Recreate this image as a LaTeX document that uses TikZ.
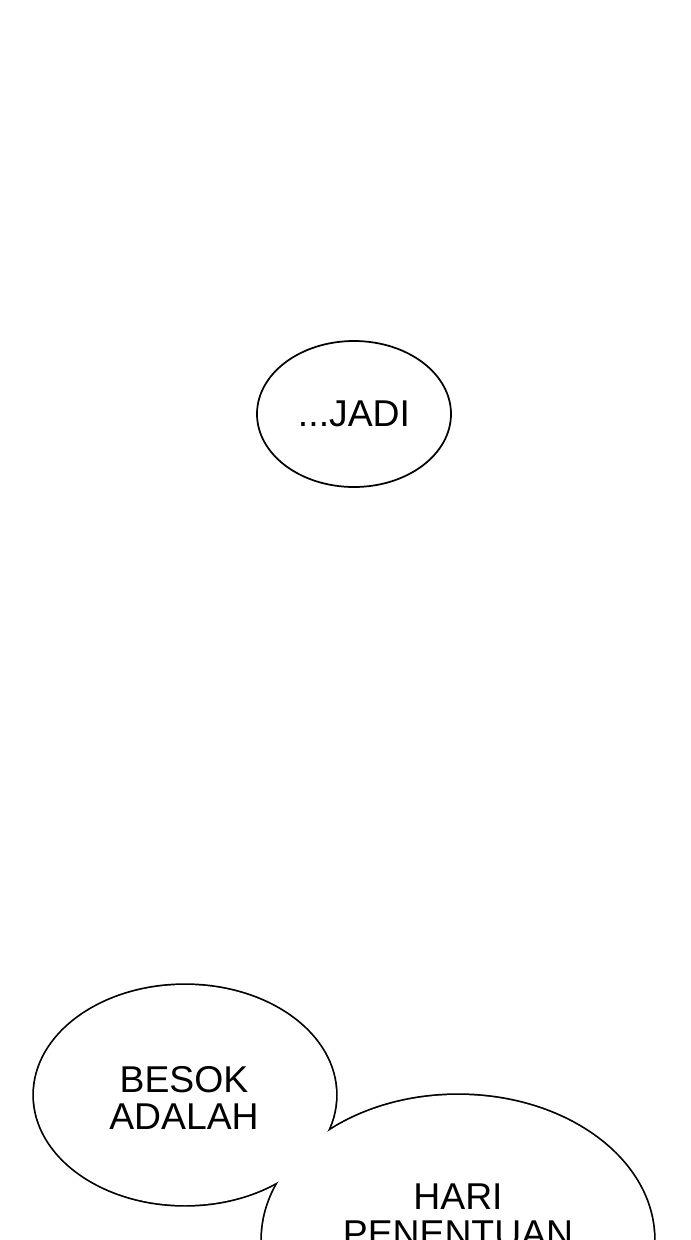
\documentclass[tikz,border=0pt]{standalone}
\usepackage{fontspec}
\setmainfont{Liberation Sans}

\tikzset{every picture/.style={line width=0.75pt}}
\tikzset{
  talk/.style={font=\fontsize{28}{27.75}\selectfont, align=center, inner sep=0pt},
  rim/.style={line width=1.3pt},
}

\begin{document}
\begin{tikzpicture}[x=0.75pt,y=0.75pt,yscale=-1,xscale=1]
%set diagram left start at 0, and has height of 1240
\useasboundingbox (0,0) rectangle (690,1240);
\fill[white] (0,0) rectangle (690,1240);
\begin{scope}
\clip (0,0) rectangle (690,1240);

%Shape: Ellipse [id:jadi]
\draw [rim, fill=white] (354,414) ellipse (97 and 73);

%Shape: Ellipse [id:besok] and [id:hari], joined: rim drawn twice as wide, then the white fill covers the inner half
\draw [rim, line width=2.6pt] (185,1095) ellipse (151 and 110);
\draw [rim, line width=2.6pt] (458,1240) ellipse (196 and 145);
\fill [white] (185,1095) ellipse (151 and 110);
\fill [white] (458,1240) ellipse (196 and 145);

% Text Node
\node [talk] (jadi) at (354,413.5) {...JADI};
% Text Node
\node [talk] (besok) at (184,1097.5) {BESOK\\ADALAH};
% Text Node
\node [talk] (hari) at (458,1215) {HARI\\PENENTUAN};

\end{scope}
\end{tikzpicture}
\end{document}
